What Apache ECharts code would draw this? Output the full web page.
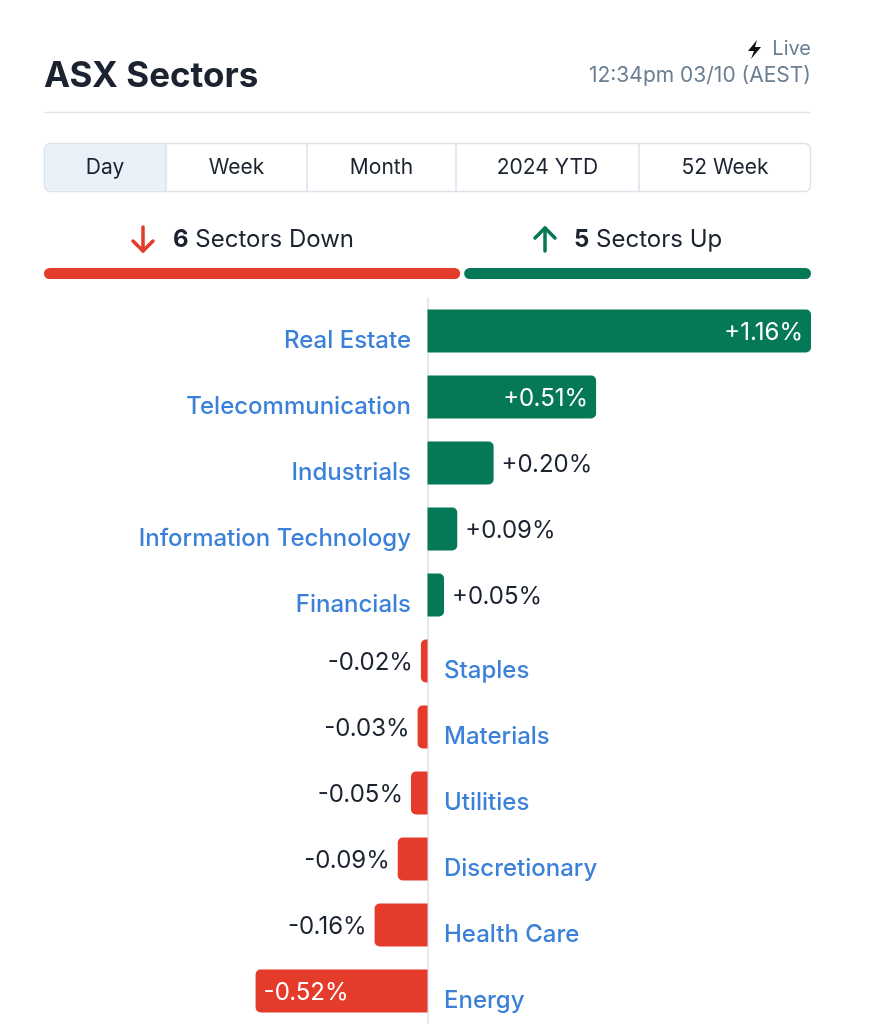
<!DOCTYPE html>
<html><head><meta charset="utf-8">
<script src="https://cdn.jsdelivr.net/npm/echarts@6/dist/echarts.min.js"></script>
<style>html,body{margin:0;padding:0;background:#fff}#c{width:891px;height:1024px}</style>
</head><body><div id="c"></div>
<script>
// ---- data ----
const sectors = ['Real Estate','Telecommunication','Industrials','Information Technology','Financials','Staples','Materials','Utilities','Discretionary','Health Care','Energy'];
const changes = [1.16, 0.51, 0.20, 0.09, 0.05, -0.02, -0.03, -0.05, -0.09, -0.16, -0.52];
const tabs = ['Day','Week','Month','2024 YTD','52 Week'];
const titleText = 'ASX Sectors';
const liveText = 'Live';
const timeText = '12:34pm 03/10 (AEST)';

// ---- layout / style ----
const FONT = 'Inter, "Noto Sans", sans-serif';
const GREEN = '#047857', RED = '#e53b2a', BLUE = '#0a62d0', DARK = '#1b2230', GREY = '#6b7f92';
const L = 44, R = 811;
const tabEdges = [44,166,307,456,639,811];

const upCount = changes.filter(v => v > 0).length;
const downCount = changes.filter(v => v < 0).length;
const gap = 4;
const redW = (R - L - gap) * downCount / (upCount + downCount);

const fmt = v => (v > 0 ? '+' : '') + v.toFixed(2) + '%';
const INSIDE_MIN = 0.3;

const barData = changes.map(v => {
  const pos = v >= 0;
  const inside = Math.abs(v) >= INSIDE_MIN;
  return {
    value: v,
    itemStyle: { color: pos ? GREEN : RED, borderRadius: pos ? [0,5,5,0] : [5,0,0,5] },
    label: {
      position: inside ? (pos ? 'insideRight' : 'insideLeft') : (pos ? 'right' : 'left'),
      color: inside ? '#ffffff' : DARK,
      distance: 8
    }
  };
});
const nameData = sectors.map((s, i) => ({
  value: [0, s],
  label: { position: changes[i] >= 0 ? 'left' : 'right' }
}));

const graphics = [];
graphics.push({ type:'text', x:L, y:76, style:{ text:titleText, font:'700 35px ' + FONT, fill:DARK, textAlign:'left', textVerticalAlign:'middle' }});
graphics.push({ type:'text', x:R, y:49, style:{ text:liveText, font:'20px ' + FONT, fill:GREY, textAlign:'right', textVerticalAlign:'middle' }});
graphics.push({ type:'polygon', shape:{ points:[[757,40],[748,51],[754,51],[751,59],[761,47],[755,47]] }, style:{ fill:'#111' }});
graphics.push({ type:'text', x:R, y:76, style:{ text:timeText, font:'21px ' + FONT, fill:GREY, textAlign:'right', textVerticalAlign:'middle' }});
graphics.push({ type:'line', shape:{ x1:L, y1:112.5, x2:R, y2:112.5 }, style:{ stroke:'#e2e6ea', lineWidth:1.5 }});
// tabs
graphics.push({ type:'rect', shape:{ x:L+0.5, y:143.5, width:R-L-1, height:48, r:6 }, style:{ fill:'#fff', stroke:'#dbe2ea', lineWidth:1.5 }});
graphics.push({ type:'rect', shape:{ x:L+1.25, y:144.25, width:tabEdges[1]-L-1.25, height:46.5, r:[5,0,0,5] }, style:{ fill:'#e8f0f8' }});
for (let i = 1; i < tabEdges.length - 1; i++) {
  graphics.push({ type:'line', shape:{ x1:tabEdges[i], y1:144, x2:tabEdges[i], y2:191 }, style:{ stroke:'#dbe2ea', lineWidth:1.5 }});
}
tabs.forEach((t, i) => {
  graphics.push({ type:'text', x:(tabEdges[i] + tabEdges[i+1]) / 2, y:168, style:{ text:t, font:'21px ' + FONT, fill:DARK, textAlign:'center', textVerticalAlign:'middle' }});
});
// up / down summary
graphics.push({ type:'polyline', shape:{ points:[[143,227],[143,251]] }, style:{ stroke:RED, lineWidth:3.5, lineCap:'round' }});
graphics.push({ type:'polyline', shape:{ points:[[133,241],[143,251],[153,241]] }, style:{ stroke:RED, fill:null, lineWidth:3.5, lineCap:'round', lineJoin:'round' }});
graphics.push({ type:'polyline', shape:{ points:[[545,228],[545,251]] }, style:{ stroke:GREEN, lineWidth:3.5, lineCap:'round' }});
graphics.push({ type:'polyline', shape:{ points:[[535,238],[545,228],[555,238]] }, style:{ stroke:GREEN, fill:null, lineWidth:3.5, lineCap:'round', lineJoin:'round' }});
graphics.push({ type:'text', x:173, y:240, style:{ text:'{b|' + downCount + '}{r| Sectors Down}', textAlign:'left', textVerticalAlign:'middle',
  rich:{ b:{ font:'700 24px ' + FONT, fill:DARK }, r:{ font:'24px ' + FONT, fill:DARK } } }});
graphics.push({ type:'text', x:574, y:240, style:{ text:'{b|' + upCount + '}{r| Sectors Up}', textAlign:'left', textVerticalAlign:'middle',
  rich:{ b:{ font:'700 24px ' + FONT, fill:DARK }, r:{ font:'24px ' + FONT, fill:DARK } } }});
graphics.push({ type:'rect', shape:{ x:L, y:268, width:redW, height:11, r:5.5 }, style:{ fill:RED }});
graphics.push({ type:'rect', shape:{ x:L + redW + gap, y:268, width:R - L - redW - gap, height:11, r:5.5 }, style:{ fill:GREEN }});

const chart = echarts.init(document.getElementById('c'));
chart.setOption({
  animation: false,
  backgroundColor: '#fff',
  grid: { left: L, right: 891 - R, top: 298, bottom: 0, containLabel: false },
  xAxis: { type:'value', min:-1.16, max:1.16, show:false },
  yAxis: { type:'category', data:sectors, inverse:true,
    axisLine:{ show:true, onZero:true, lineStyle:{ color:'#dfe3e7', width:1.5 } },
    axisTick:{ show:false }, axisLabel:{ show:false }, splitLine:{ show:false } },
  series: [
    { type:'bar', data:barData, barWidth:43, silent:true,
      label:{ show:true, formatter: p => fmt(p.value), fontFamily:FONT, fontSize:24, offset:[0,2] } },
    { type:'scatter', data:nameData, symbolSize:1, itemStyle:{ color:'rgba(0,0,0,0)' }, silent:true, z:5,
      label:{ show:true, formatter: p => p.value[1], color:BLUE, fontFamily:FONT, fontSize:24, fontWeight:500, distance:16, offset:[0,10] } }
  ],
  graphic: graphics
});
</script></body></html>
